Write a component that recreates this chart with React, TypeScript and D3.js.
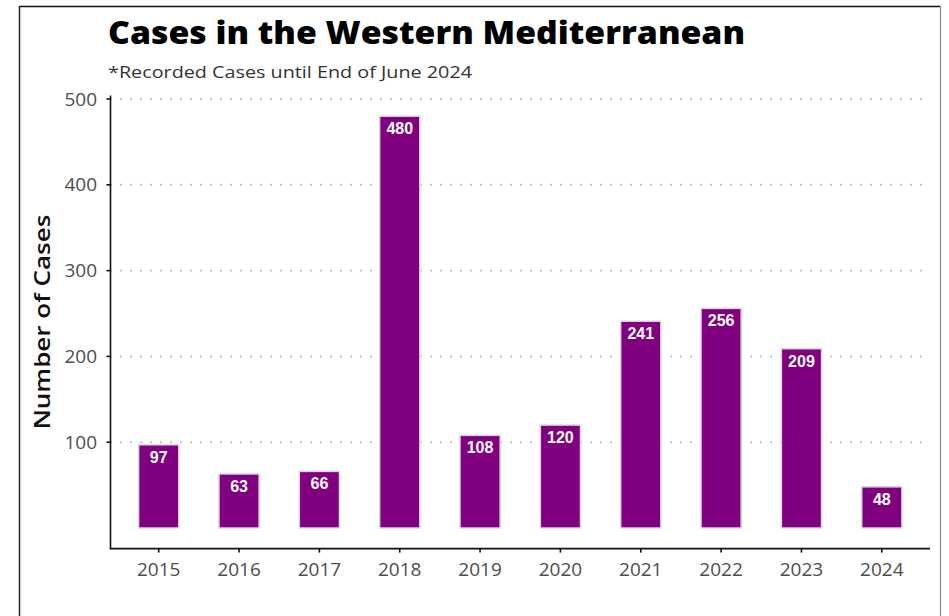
import React from "react";
import * as d3 from "d3";

const years = ["2015", "2016", "2017", "2018", "2019", "2020", "2021", "2022", "2023", "2024"];
const cases = [97, 63, 66, 480, 108, 120, 241, 256, 209, 48];
const yTicks = [100, 200, 300, 400, 500];
const titleText = "Cases in the Western Mediterranean";
const subtitleText = "*Recorded Cases until End of June 2024";
const yTitle = "Number of Cases";

const W = 949;
const H = 616;
const panel = { left: 110.5, right: 930, top: 95.6, bottom: 548.6 };

export default function App() {
  const x = d3.scalePoint<string>().domain(years).range([panel.left, panel.right]).padding(0.6);
  const y = d3.scaleLinear().domain([-24, 504]).range([panel.bottom, panel.top]);
  const bw = x.step() * 0.5;
  const tickFont = "'Open Sans', 'Noto Sans', sans-serif";

  return (
    <svg width={W} height={H} style={{ position: "absolute", left: 0, top: 0, background: "#fff" }}>
      <rect x={0} y={0} width={W} height={H} fill="#fff" />
      {/* outer frame */}
      <line x1={19.5} y1={6.5} x2={941} y2={6.5} stroke="#111" strokeWidth={1.5} />
      <line x1={19.5} y1={6} x2={19.5} y2={H} stroke="#222" strokeWidth={1.5} />
      <line x1={940.5} y1={6} x2={940.5} y2={H} stroke="#888" strokeWidth={1.2} />

      {/* title */}
      <text x={108} y={44} fontFamily="'Open Sans', sans-serif" fontWeight={800} fontSize={32} fill="#000" textLength={637} lengthAdjust="spacingAndGlyphs">
        {titleText}
      </text>
      <text x={108} y={78} fontFamily={tickFont} fontWeight={400} fontSize={17} fill="#333" textLength={364} lengthAdjust="spacingAndGlyphs">
        {subtitleText}
      </text>

      {/* gridlines */}
      {yTicks.map((t) => (
        <line key={"g" + t} x1={panel.left} x2={panel.right} y1={y(t)} y2={y(t)} stroke="#c4c4c4" strokeWidth={2} strokeDasharray="2 8" strokeDashoffset={0.5} />
      ))}

      {/* bars */}
      {years.map((yr, i) => (
        <g key={yr}>
          <rect x={(x(yr) as number) - bw / 2} y={y(cases[i])} width={bw} height={y(0) - y(cases[i])} fill="#800080" stroke="#d9d9d9" strokeWidth={1.5} />
          <text x={x(yr) as number} y={y(cases[i]) + 18} textAnchor="middle" fontFamily="'Liberation Sans', Arial, sans-serif" fontWeight={700} fontSize={16} fill="#fff">
            {cases[i]}
          </text>
        </g>
      ))}

      {/* axes */}
      <line x1={panel.left} x2={panel.left} y1={panel.top} y2={panel.bottom} stroke="#111" strokeWidth={1.6} />
      <line x1={panel.left - 0.8} x2={panel.right} y1={panel.bottom} y2={panel.bottom} stroke="#111" strokeWidth={1.6} />
      {yTicks.map((t) => (
        <g key={"yt" + t}>
          <line x1={panel.left - 4} x2={panel.left} y1={y(t)} y2={y(t)} stroke="#111" strokeWidth={1.6} />
          <text x={97} y={y(t)} dy="0.35em" textAnchor="end" fontFamily={tickFont} fontSize={19} fill="#4d4d4d">
            {t}
          </text>
        </g>
      ))}
      {years.map((yr) => (
        <g key={"xt" + yr}>
          <line x1={x(yr) as number} x2={x(yr) as number} y1={panel.bottom} y2={panel.bottom + 4} stroke="#111" strokeWidth={1.6} />
          <text x={x(yr) as number} y={576} textAnchor="middle" fontFamily={tickFont} fontSize={19} fill="#4d4d4d">
            {yr}
          </text>
        </g>
      ))}

      {/* y title */}
      <text transform={`translate(50, ${(panel.top + panel.bottom) / 2}) rotate(-90)`} textAnchor="middle" fontFamily={tickFont} fontWeight={600} fontSize={21} fill="#111" textLength={215} lengthAdjust="spacingAndGlyphs">
        {yTitle}
      </text>
    </svg>
  );
}
